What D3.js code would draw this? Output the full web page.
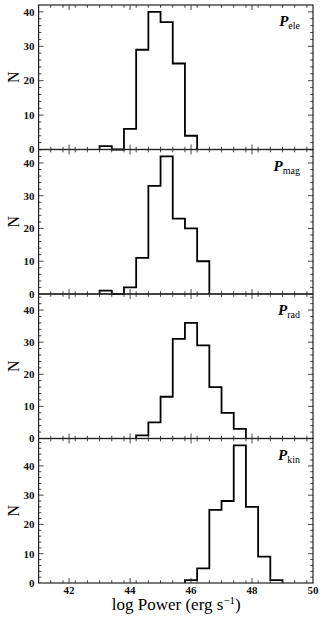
<!DOCTYPE html>
<html>
<head>
<meta charset="utf-8">
<script src="https://cdn.jsdelivr.net/npm/d3@7"></script>
<style>
  body { margin: 0; background: #fff; }
  svg { display: block; }
  .tick-label { font-family: "Liberation Serif", serif; font-weight: bold; font-size: 11px; fill: #111; }
</style>
</head>
<body>
<div id="chart"></div>
<script>
const width = 325;
const height = 621;

// Histogram bins: lower edges (bin width 0.4)
const binEdges = [43.0, 43.4, 43.8, 44.2, 44.6, 45.0, 45.4, 45.8, 46.2, 46.6, 47.0, 47.4, 47.8, 48.2, 48.6, 49.0];
const binWidth = 0.4;

// Counts per panel
const countsEle = [1, 0, 6, 29, 40, 37, 25, 4, 0, 0, 0, 0, 0, 0, 0];
const countsMag = [1, 0, 2, 11, 33, 42, 23, 20, 10, 0, 0, 0, 0, 0, 0];
const countsRad = [0, 0, 0, 1, 5, 13, 31, 36, 29, 16, 8, 3, 0, 0, 0];
const countsKin = [0, 0, 0, 0, 0, 0, 0, 1, 5, 25, 28, 47, 26, 9, 1];

const panelNames = ["ele", "mag", "rad", "kin"];
const panelYMax = [42, 44.1, 45, 49.35];
const xTicks = [42, 44, 46, 48, 50];
const yTicks = [0, 10, 20, 30, 40];

const allCounts = [countsEle, countsMag, countsRad, countsKin];

const margin = { top: 5, right: 12, bottom: 38, left: 38.6 };
const plotW = width - margin.left - margin.right;
const plotH = height - margin.top - margin.bottom;
const panelH = plotH / 4;

const svg = d3.select("#chart")
    .append("svg")
    .attr("width", width)
    .attr("height", height);

const x = d3.scaleLinear().domain([41, 50]).range([0, plotW]);
const xMinor = d3.range(41, 50.001, 0.4).filter(v => v > 41.01 && v < 49.99);

allCounts.forEach((counts, i) => {
    const g = svg.append("g")
        .attr("transform", `translate(${margin.left}, ${margin.top + i * panelH})`);

    const y = d3.scaleLinear().domain([0, panelYMax[i]]).range([panelH, 0]);
    const yMinor = d3.range(0, panelYMax[i], 2).filter(v => v % 10 !== 0);

    // Step outline (only across the occupied bins; zero line sits under the spine)
    const first = counts.findIndex(c => c > 0);
    let last = counts.length - 1;
    while (counts[last] === 0) last--;
    const pts = [[binEdges[first], 0]];
    for (let k = first; k <= last; k++) {
        pts.push([binEdges[k], counts[k]]);
        pts.push([binEdges[k] + binWidth, counts[k]]);
    }
    pts.push([binEdges[last] + binWidth, 0]);

    g.append("path")
        .attr("d", d3.line().x(d => x(d[0])).y(d => y(d[1]))(pts))
        .attr("fill", "none")
        .attr("stroke", "#000")
        .attr("stroke-width", 1.8)
        .attr("stroke-linejoin", "miter");

    // Ticks (inward, all four sides)
    const tickG = g.append("g").attr("stroke", "#333").attr("stroke-width", 0.9);
    const xMajorIn = xTicks.filter(v => v < 50);
    xMajorIn.forEach(v => {
        tickG.append("line").attr("x1", x(v)).attr("x2", x(v)).attr("y1", panelH).attr("y2", panelH - 5);
        tickG.append("line").attr("x1", x(v)).attr("x2", x(v)).attr("y1", 0).attr("y2", 5);
    });
    xMinor.forEach(v => {
        if (xTicks.some(t => Math.abs(t - v) < 0.01)) return;
        tickG.append("line").attr("x1", x(v)).attr("x2", x(v)).attr("y1", panelH).attr("y2", panelH - 2.8);
        tickG.append("line").attr("x1", x(v)).attr("x2", x(v)).attr("y1", 0).attr("y2", 2.8);
    });
    yTicks.filter(v => v > 0 && v < panelYMax[i]).forEach(v => {
        tickG.append("line").attr("x1", 0).attr("x2", 5).attr("y1", y(v)).attr("y2", y(v));
        tickG.append("line").attr("x1", plotW).attr("x2", plotW - 5).attr("y1", y(v)).attr("y2", y(v));
    });
    yMinor.forEach(v => {
        tickG.append("line").attr("x1", 0).attr("x2", 2.8).attr("y1", y(v)).attr("y2", y(v));
        tickG.append("line").attr("x1", plotW).attr("x2", plotW - 2.8).attr("y1", y(v)).attr("y2", y(v));
    });

    // Y tick labels
    g.selectAll(".ylab")
        .data(yTicks.filter(v => v < panelYMax[i]))
        .enter()
        .append("text")
        .attr("class", "tick-label")
        .attr("x", -4)
        .attr("y", d => y(d) + 3.8)
        .attr("text-anchor", "end")
        .text(d => d);

    // Frame
    g.append("rect")
        .attr("width", plotW)
        .attr("height", panelH)
        .attr("fill", "none")
        .attr("stroke", "#222")
        .attr("stroke-width", 1.2);

    // Y axis label
    g.append("text")
        .attr("transform", `translate(-20, ${panelH / 2}) rotate(-90)`)
        .attr("text-anchor", "middle")
        .style("font-family", "Liberation Serif, serif")
        .style("font-size", "16px")
        .text("N");

    // Panel label
    const lab = g.append("text")
        .attr("x", plotW - 13)
        .attr("y", 21)
        .attr("text-anchor", "end")
        .style("font-family", "Liberation Serif, serif")
        .style("font-size", "15px");
    lab.append("tspan")
        .style("font-style", "italic")
        .style("font-weight", "bold")
        .text("P");
    lab.append("tspan")
        .attr("dy", 3)
        .style("font-size", "10px")
        .text(panelNames[i]);
});

// X tick labels on bottom panel
const bottom = svg.append("g")
    .attr("transform", `translate(${margin.left}, ${margin.top + plotH})`);
bottom.selectAll(".xlab")
    .data(xTicks)
    .enter()
    .append("text")
    .attr("class", "tick-label")
    .attr("x", d => x(d))
    .attr("y", 10.5)
    .attr("text-anchor", "middle")
    .text(d => d);

// X axis label
const xl = svg.append("text")
    .attr("x", margin.left + plotW / 2 + 0.5)
    .attr("y", 610)
    .attr("text-anchor", "middle")
    .style("font-family", "Liberation Serif, serif")
    .style("font-size", "17px");
xl.append("tspan").text("log Power (erg s");
xl.append("tspan").attr("dy", -6).style("font-size", "11px").text("\u22121");
xl.append("tspan").attr("dy", 6).text(")");
</script>
</body>
</html>
